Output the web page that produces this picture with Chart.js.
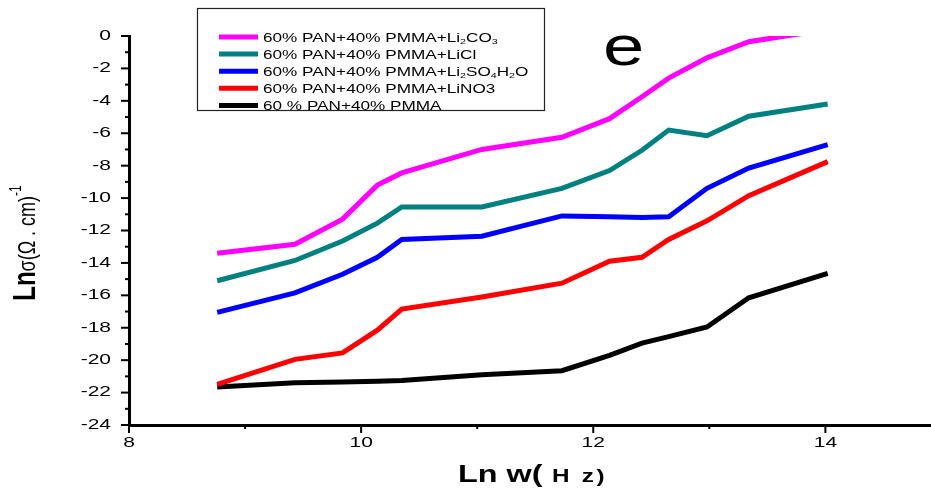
<!DOCTYPE html>
<html>
<head>
<meta charset="utf-8">
<script src="https://cdn.jsdelivr.net/npm/chart.js@4.4.0/dist/chart.umd.min.js"></script>
<style>
  html, body { margin: 0; padding: 0; background: #fff; }
</style>
</head>
<body>
<canvas id="chart" width="931" height="490"></canvas>
<script>
// Ln w (Hz) values shared by all series
const lnW = [8.76, 9.43, 9.84, 10.14, 10.35, 11.04, 11.73, 12.14, 12.42, 12.65, 12.98, 13.34, 14.02];

// Ln sigma values for each sample
const li2co3 = [-13.4, -12.85, -11.3, -9.2, -8.45, -7.0, -6.25, -5.1, -3.75, -2.6, -1.35, -0.35, 0.4];
const licl   = [-15.1, -13.85, -12.65, -11.55, -10.55, -10.55, -9.4, -8.3, -7.05, -5.8, -6.15, -4.95, -4.2];
const li2so4 = [-17.05, -15.85, -14.7, -13.65, -12.55, -12.35, -11.1, -11.15, -11.2, -11.15, -9.4, -8.15, -6.7];
const lino3  = [-21.5, -19.95, -19.55, -18.15, -16.85, -16.1, -15.25, -13.9, -13.65, -12.55, -11.4, -9.85, -7.75];
const blend  = [-21.65, -21.4, -21.35, -21.3, -21.25, -20.9, -20.65, -19.7, -18.95, -18.55, -17.95, -16.15, -14.65];

// legend names, split in parts so subscripts can be drawn
const names = [
  [["60% PAN+40% PMMA+Li"], ["2", "sub"], ["CO"], ["3", "sub"]],
  [["60% PAN+40% PMMA+LiCl"]],
  [["60% PAN+40% PMMA+Li"], ["2", "sub"], ["SO"], ["4", "sub"], ["H"], ["2", "sub"], ["O"]],
  [["60% PAN+40% PMMA+LiNO3"]],
  [["60 % PAN+40% PMMA"]]
];
const colors = ["#ff00ff", "#008080", "#0000ff", "#ff0000", "#000000"];
const series = [li2co3, licl, li2so4, lino3, blend];

// tick labels
const xTicks = [8, 10, 12, 14];
const xMinor = [9, 11, 13];
const yTicks = [0, -2, -4, -6, -8, -10, -12, -14, -16, -18, -20, -22, -24];
const yMinor = [-1, -3, -5, -7, -9, -11, -13, -15, -17, -19, -21, -23];

const FONT = "'Liberation Sans', Arial, sans-serif";

function richText(ctx, parts, x, y, size, weight) {
  // draws left aligned from x, returns width
  let cx = x;
  parts.forEach(p => {
    const sub = p[1] === "sub";
    const sup = p[1] === "sup";
    const s = (sub || sup) ? size * 0.62 : size;
    ctx.font = (weight || "") + " " + s + "px " + FONT;
    const dy = sub ? size * 0.3 : (sup ? -size * 0.45 : 0);
    ctx.fillText(p[0], cx, y + dy);
    cx += ctx.measureText(p[0]).width;
  });
  return cx - x;
}

const decor = {
  id: "decor",
  afterDraw(chart) {
    const ctx = chart.ctx;
    const xs = chart.scales.x, ys = chart.scales.y;
    const bottom = chart.chartArea.bottom, left = chart.chartArea.left;
    ctx.save();
    ctx.strokeStyle = "#000";
    ctx.fillStyle = "#000";
    ctx.lineWidth = 2;

    // tick marks
    xTicks.concat(xMinor).forEach(v => {
      const px = xs.getPixelForValue(v);
      const len = xTicks.includes(v) ? 8 : 4;
      ctx.beginPath(); ctx.moveTo(px, bottom); ctx.lineTo(px, bottom + len); ctx.stroke();
    });
    yTicks.concat(yMinor).forEach(v => {
      const py = ys.getPixelForValue(v);
      const len = yTicks.includes(v) ? 8 : 4;
      ctx.beginPath(); ctx.moveTo(left, py); ctx.lineTo(left - len, py); ctx.stroke();
    });

    // tick labels (stretched wide like the original)
    ctx.font = "14px " + FONT;
    ctx.textBaseline = "middle";
    xTicks.forEach(v => {
      ctx.save();
      ctx.translate(xs.getPixelForValue(v), bottom + 18);
      ctx.scale(1.5, 1);
      ctx.textAlign = "center";
      ctx.fillText(String(v), 0, 0);
      ctx.restore();
    });
    yTicks.forEach(v => {
      ctx.save();
      ctx.translate(left - 18, ys.getPixelForValue(v));
      ctx.scale(1.5, 1);
      ctx.textAlign = "right";
      ctx.fillText(String(v), 0, 0);
      ctx.restore();
    });

    // x axis title
    ctx.save();
    ctx.textBaseline = "alphabetic";
    ctx.textAlign = "left";
    ctx.translate(458, 482);
    ctx.scale(1.35, 1);
    let w = richText(ctx, [["Ln w("]], 0, 0, 24, "bold");
    ctx.letterSpacing = "2px";
    richText(ctx, [[" H z)"]], w, 0, 18, "bold");
    ctx.restore();

    // y axis title
    ctx.save();
    ctx.textBaseline = "alphabetic";
    ctx.textAlign = "left";
    ctx.translate(35, 243);
    ctx.scale(1.3, 1);
    ctx.rotate(-Math.PI / 2);
    ctx.font = "bold 24px " + FONT;
    const w1 = ctx.measureText("Ln").width;
    ctx.font = "18px " + FONT;
    const w2 = ctx.measureText("σ(Ω . cm)").width;
    ctx.font = "12px " + FONT;
    const w3 = ctx.measureText("-1").width;
    let sx = -(w1 + w2 + w3) / 2;
    ctx.font = "bold 24px " + FONT;
    ctx.fillText("Ln", sx, 0);
    ctx.font = "18px " + FONT;
    ctx.fillText("σ(Ω . cm)", sx + w1, 0);
    ctx.font = "12px " + FONT;
    ctx.fillText("-1", sx + w1 + w2, -11);
    ctx.restore();

    // panel letter
    ctx.save();
    ctx.textBaseline = "alphabetic";
    ctx.textAlign = "left";
    ctx.translate(603, 65);
    ctx.scale(1.35, 1);
    ctx.font = "55px " + FONT;
    ctx.fillText("e", 0, 0);
    ctx.restore();

    // legend
    ctx.fillStyle = "#fff";
    ctx.fillRect(197, 8, 347, 102);
    ctx.lineWidth = 1.2;
    ctx.strokeStyle = "#222";
    ctx.strokeRect(197.5, 8.5, 347, 102);
    names.forEach((parts, i) => {
      const y = 37 + i * 17.1;
      ctx.strokeStyle = colors[i];
      ctx.lineWidth = 5;
      ctx.beginPath(); ctx.moveTo(219, y); ctx.lineTo(258, y); ctx.stroke();
      ctx.save();
      ctx.fillStyle = "#000";
      ctx.textBaseline = "middle";
      ctx.textAlign = "left";
      ctx.translate(263, y + 1);
      ctx.scale(1.32, 1);
      richText(ctx, parts, 0, 0, 13, "");
      ctx.restore();
    });
    ctx.restore();
  }
};

new Chart(document.getElementById("chart"), {
  type: "line",
  data: {
    datasets: series.map((vals, i) => ({
      label: names[i].map(p => p[0]).join(""),
      data: lnW.map((x, j) => ({ x: x, y: vals[j] })),
      borderColor: colors[i],
      backgroundColor: colors[i],
      borderWidth: 5,
      pointRadius: 0,
      tension: 0,
      fill: false
    }))
  },
  options: {
    responsive: false,
    animation: false,
    devicePixelRatio: 1,
    layout: { padding: { top: 36, right: 0, left: 0, bottom: 0 } },
    plugins: { legend: { display: false }, tooltip: { enabled: false } },
    scales: {
      x: {
        type: "linear",
        min: 8,
        max: 14.91,
        ticks: { display: false, stepSize: 1, includeBounds: false },
        grid: { display: false, drawTicks: false },
        border: { display: true, color: "#000", width: 3 },
        afterFit: s => { s.height = 65; }
      },
      y: {
        type: "linear",
        min: -24,
        max: 0,
        ticks: { display: false, stepSize: 1 },
        grid: { display: false, drawTicks: false },
        border: { display: true, color: "#000", width: 3 },
        afterFit: s => { s.width = 129; }
      }
    }
  },
  plugins: [decor]
});
</script>
</body>
</html>
